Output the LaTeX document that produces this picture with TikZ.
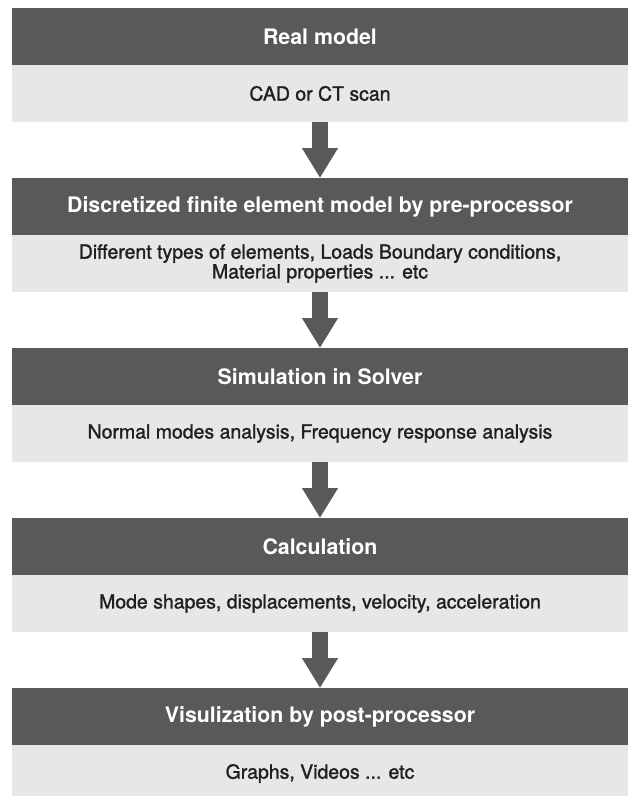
\documentclass[tikz,border=0pt]{standalone}
\usepackage{fontspec}
\setmainfont{TeX Gyre Heros}
\newfontfamily\medfont[FakeBold=1.4]{TeX Gyre Heros}
\usepackage{tikz}
\usetikzlibrary{positioning,arrows.meta}
\definecolor{stagegray}{HTML}{58595B}
\definecolor{detailgray}{HTML}{E6E7E8}
\definecolor{ink}{HTML}{231F20}
\tikzset{
  stage/.style={fill=stagegray, text=white, font=\bfseries\fontsize{16}{19}\selectfont,
    minimum width=462pt, minimum height=42.75pt, inner sep=0pt, outer sep=0pt, align=center},
  detail/.style={fill=detailgray, text=ink, font=\medfont\fontsize{14.6}{12.9}\selectfont,
    minimum width=462pt, minimum height=42.75pt, inner sep=0pt, outer sep=0pt, align=center},
  flow/.style={draw=stagegray, line width=12pt, -{Triangle[width=25.5pt, length=22.5pt]}},
}

\begin{document}
\begin{tikzpicture}[x=0.75pt, y=-0.75pt]
  \clip (0,0) rectangle (630,796);

  \node[stage] (real) at (320,36.5) {Real model};
  \node[detail, below=0pt of real] (realtxt) {CAD or CT scan};

  \node[stage, below=42pt of realtxt] (pre) {Discretized finite element model by pre-processor};
  \node[detail, below=0pt of pre] (pretxt) {Different types of elements, Loads Boundary conditions,\\Material properties ... etc};

  \node[stage, below=42pt of pretxt] (solver) {Simulation in Solver};
  \node[detail, below=0pt of solver] (solvertxt) {Normal modes analysis, Frequency response analysis};

  \node[stage, below=42pt of solvertxt] (calc) {Calculation};
  \node[detail, below=0pt of calc] (calctxt) {Mode shapes, displacements, velocity, acceleration};

  \node[stage, below=42pt of calctxt] (post) {Visulization by post-processor};
  \node[detail, below=0pt of post] (posttxt) {Graphs, Videos ... etc};

  \draw[flow] (realtxt.south) -- (pre.north);
  \draw[flow] (pretxt.south) -- (solver.north);
  \draw[flow] (solvertxt.south) -- (calc.north);
  \draw[flow] (calctxt.south) -- (post.north); % last step
\end{tikzpicture}
\end{document}
